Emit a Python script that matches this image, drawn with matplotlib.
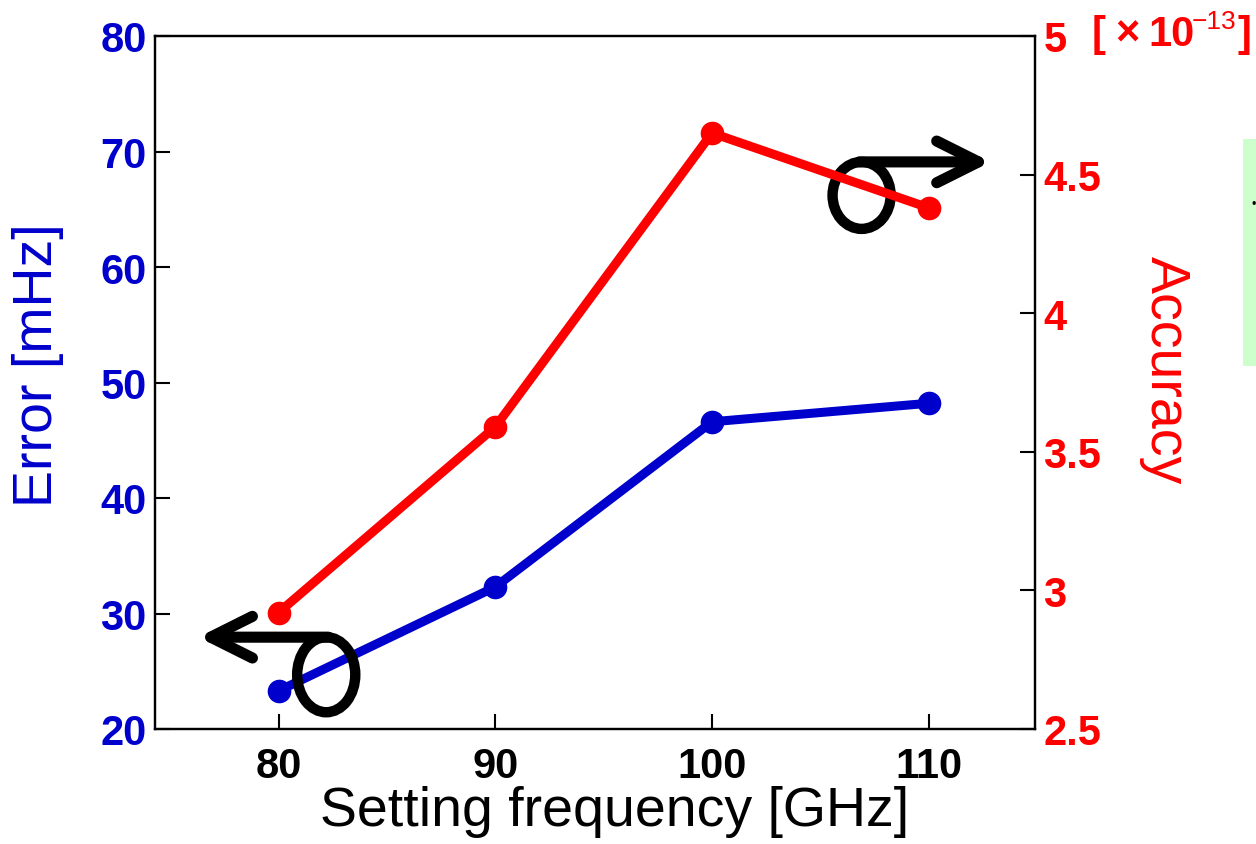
import numpy as np
import matplotlib.pyplot as plt
from matplotlib.patches import Ellipse, Rectangle

plt.rcParams['font.family'] = ['Liberation Sans', 'DejaVu Sans']

freq = [80, 90, 100, 110]
error_mhz = [23.3, 32.3, 46.6, 48.2]
accuracy = [2.92, 3.59, 4.65, 4.38]

x_ticks = [80, 90, 100, 110]
left_ticks = [20, 30, 40, 50, 60, 70, 80]
right_ticks = [2.5, 3, 3.5, 4, 4.5, 5]
right_tick_labels = ['2.5', '3', '3.5', '4', '4.5', '5']

blue = '#0000cc'
red = '#ff0000'

W, H = 1256, 845
fig = plt.figure(figsize=(W/100, H/100), dpi=100)
ax = fig.add_axes([155/W, 1-730/H, 880/W, 693/H])
ax2 = ax.twinx()

ax.plot(freq, error_mhz, color=blue, lw=6.5, marker='o', ms=16, zorder=3)
ax2.plot(freq, accuracy, color=red, lw=6.5, marker='o', ms=16, zorder=3)

ax.set_xlim(74.3, 114.9)
ax.set_ylim(20, 80)
ax2.set_ylim(2.5, 5)

ax.set_xticks(x_ticks)
ax.set_yticks(left_ticks)
ax2.set_yticks(right_ticks)
ax2.set_yticklabels(right_tick_labels)

for a in (ax, ax2):
    for s in a.spines.values():
        s.set_linewidth(1.6)
        s.set_color('black')

ax.tick_params(axis='x', direction='in', length=11, width=1.5, pad=12,
               labelsize=30)
ax.tick_params(axis='y', direction='in', length=11, width=1.5, pad=6,
               labelsize=30, labelcolor=blue)
ax2.tick_params(axis='y', direction='in', length=11, width=1.5, pad=6,
                labelsize=30, labelcolor=red)
for lab in ax.get_xticklabels() + ax.get_yticklabels() + ax2.get_yticklabels():
    lab.set_fontweight('bold')

# axis titles
fig.text(615/W, 1-812/H, 'Setting frequency [GHz]', fontsize=40,
         color='black', ha='center', va='center')
fig.text(38/W, 1-365/H, 'Error [mHz]', fontsize=40, color=blue,
         rotation=90, ha='center', va='center')
fig.text(1165/W, 1-370/H, 'Accuracy', fontsize=40, color=red,
         rotation=-90, ha='center', va='center')

# exponent note next to the top right tick
ty = 1-35/H
fig.text(1092/W, ty, '[', fontsize=30, color=red, fontweight='bold',
         ha='left', va='center')
fig.text(1115/W, ty, '×', fontsize=30, color=red, fontweight='bold',
         ha='left', va='center')
fig.text(1148/W, ty, '10', fontsize=30, color=red, fontweight='bold',
         ha='left', va='center')
fig.text(1192/W, 1-22/H, '−13', fontsize=19, color=red,
         ha='left', va='center')
fig.text(1237/W, ty, ']', fontsize=30, color=red, fontweight='bold',
         ha='left', va='center')

# loop-and-arrow markers that point to each axis
arrow_props = dict(arrowstyle='->,head_length=1.5,head_width=0.75',
                   lw=8, color='black', mutation_scale=20,
                   shrinkA=0, shrinkB=0, capstyle='round', joinstyle='round')
ax.add_patch(Ellipse((82.2, 24.7), 2.68, 6.5, fill=False, lw=7.5,
                     ec='black', zorder=5, clip_on=False))
ax.annotate('', xy=(76.3, 27.95), xytext=(82.3, 27.95),
            arrowprops=arrow_props, zorder=5, annotation_clip=False)
ax.add_patch(Ellipse((106.9, 66.2), 2.68, 5.8, fill=False, lw=7.5,
                     ec='black', zorder=5, clip_on=False))
ax.annotate('', xy=(112.86, 69.1), xytext=(106.8, 69.1),
            arrowprops=arrow_props, zorder=5, annotation_clip=False)

# cut-off green box at the right edge
fig.patches.append(Rectangle((1243/W, 1-367/H), 13/W, 227/H,
                             transform=fig.transFigure, fc='#ccffcc',
                             ec='none', zorder=0))
fig.text(1252/W, 1-205/H, '•', fontsize=9, color='black',
         ha='left', va='center')

fig.savefig('out.png', dpi=100)
